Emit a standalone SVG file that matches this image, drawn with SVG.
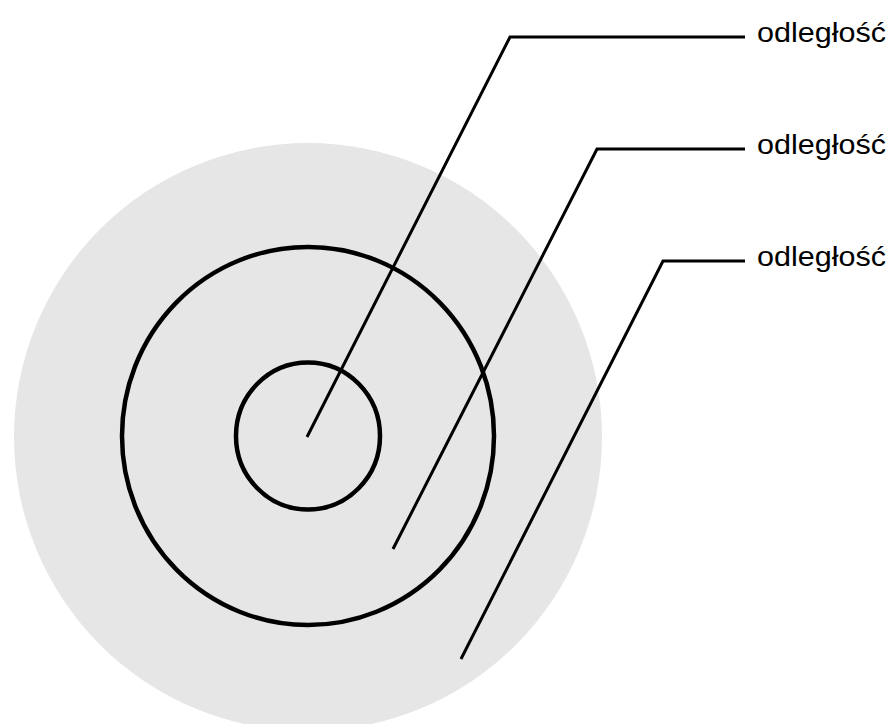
<svg xmlns="http://www.w3.org/2000/svg" width="896" height="724" viewBox="0 0 896 724">
<style>
.ring{fill:none;stroke:#000;stroke-width:4.5}
.lead{fill:none;stroke:#000;stroke-width:3;stroke-linejoin:miter}
.lbl{font-family:"Liberation Sans",Arial,sans-serif;font-size:27px;fill:#000}
</style>
<rect width="896" height="724" fill="#fff"/>
<g id="area"><ellipse cx="308" cy="437" rx="294" ry="294" fill="#e6e6e6"/></g>
<g id="outer"><ellipse class="ring" cx="308" cy="436" rx="186" ry="189"/></g>
<g id="inner"><ellipse class="ring" cx="308" cy="436" rx="72" ry="73.5"/></g>
<g id="connectors">
<polyline class="lead" points="307,437 510,37 745,37"/>
<polyline class="lead" points="393,549 597,149 745,149"/>
<polyline class="lead" points="461,659 663,261 745,261"/>
</g>
<g id="label1"><text class="lbl" x="757" y="42" textLength="129" lengthAdjust="spacingAndGlyphs">odległość</text></g>
<g id="label2"><text class="lbl" x="757" y="154" textLength="129" lengthAdjust="spacingAndGlyphs">odległość</text></g>
<g id="label3"><text class="lbl" x="757" y="266" textLength="129" lengthAdjust="spacingAndGlyphs">odległość</text></g>
</svg>
